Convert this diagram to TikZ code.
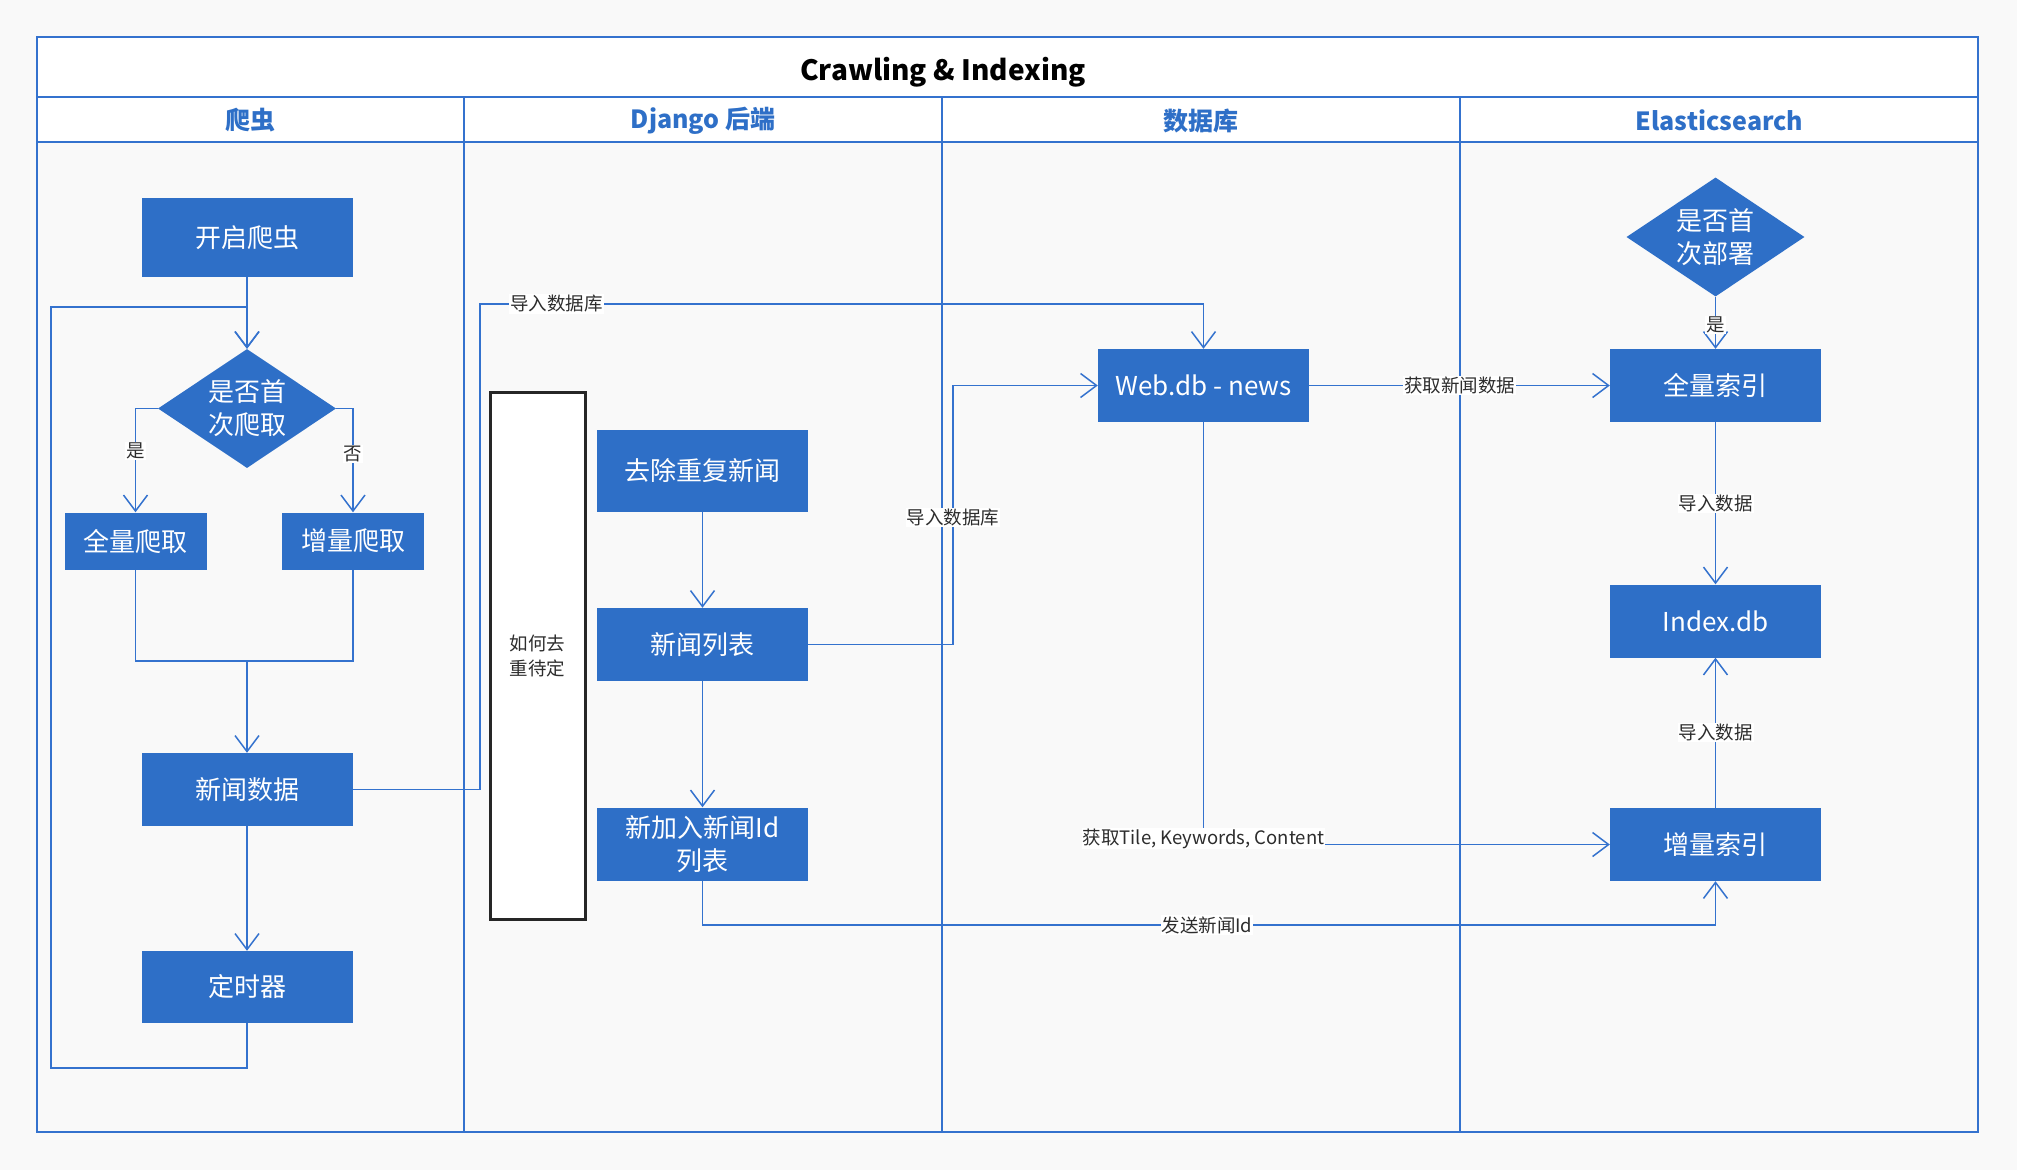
\documentclass[tikz,border=0pt]{standalone}
\usepackage{fontspec}
\setmainfont{Noto Sans CJK SC}
\usetikzlibrary{shapes.geometric,arrows.meta}
\definecolor{nodeblue}{RGB}{46,111,199}
\definecolor{lineblue}{RGB}{52,114,206}
\definecolor{pagebg}{RGB}{249,249,249}
\definecolor{labelgray}{RGB}{45,45,45}
\begin{document}
\begin{tikzpicture}[x=1pt,y=-1pt,
  proc/.style={draw=none, fill=nodeblue, text=white, minimum width=211pt, minimum height=73pt, inner sep=0pt, align=center, font=\fontsize{26}{33}\selectfont},
  decis/.style={diamond, shape aspect=1.5, draw=none, fill=nodeblue, text=white, minimum width=178pt, minimum height=119pt, inner sep=0pt, align=center, font=\fontsize{26}{33}\selectfont},
  conn/.style={draw=lineblue, line width=1.5pt},
  arr/.style={-{Straight Barb[length=16pt,width=24pt,line width=1.5pt]}},
  lbl/.style={fill=white, text=labelgray, inner sep=1pt, font=\fontsize{18.5}{24}\selectfont, align=center},
  lanehdr/.style={text=nodeblue, font=\bfseries\fontsize{25}{30}\selectfont},
  laneline/.style={draw=lineblue, line width=2pt}
]
\useasboundingbox (0,0) rectangle (2017,1170);
\fill[pagebg] (0,0) rectangle (2017,1170);
% pool
\fill[white] (37,37) rectangle (1978,142);
\draw[laneline] (37,97) -- (1978,97);
\draw[laneline] (37,142) -- (1978,142);
\draw[laneline] (464,97) -- (464,1132);
\draw[laneline] (942,97) -- (942,1132);
\draw[laneline] (1460,97) -- (1460,1132);
\draw[draw=lineblue, line width=2.5pt] (37,37) rectangle (1978,1132);
\node[font=\bfseries\fontsize{28}{32}\selectfont, text=black] (title) at (943,72) {Crawling \& Indexing};
\node[lanehdr] (h1) at (250.5,120.5) {爬虫};
\node[lanehdr] (h2) at (703,120.5) {Django 后端};
\node[lanehdr] (h3) at (1201,120.5) {数据库};
\node[lanehdr] (h4) at (1719.5,120.5) {Elasticsearch};

% crawler lane
\node[proc, minimum height=79pt] (start) at (247,237.5) {开启爬虫};
\node[decis] (dia1) at (247,408.5) {是否首\\次爬取};
\node[proc, minimum width=142pt, minimum height=57pt] (full) at (135.5,541) {全量爬取};
\node[proc, minimum width=142pt, minimum height=57pt] (incr) at (353,541) {增量爬取};
\node[proc] (news) at (247,789.5) {新闻数据};
\node[proc, minimum height=72pt] (timer) at (247,987) {定时器};

% django lane
\node[draw=black!85, line width=3pt, fill=white, minimum width=95pt, minimum height=527pt, inner sep=0pt, align=center, text=labelgray, font=\fontsize{18.5}{25}\selectfont] (note) at (537.5,655.5) {如何去\\重待定};
\node[proc, minimum height=82pt] (dedup) at (702.5,471) {去除重复新闻};
\node[proc] (list) at (702.5,644.5) {新闻列表};
\node[proc] (newid) at (702.5,844) {新加入新闻Id\\列表};

% database lane
\node[proc] (webdb) at (1203.5,385.5) {Web.db - news};

% elasticsearch lane
\node[decis] (dia2) at (1715.5,237) {是否首\\次部署};
\node[proc] (fullidx) at (1715.5,385.5) {全量索引};
\node[proc] (indexdb) at (1715.5,621) {Index.db};
\node[proc] (incridx) at (1715.5,844.5) {增量索引};

% coordinates
\coordinate (lpA) at (247,1068);
\coordinate (lpB) at (51,1068);
\coordinate (lpC) at (51,307);
\coordinate (lpD) at (247,307);
\coordinate (merge) at (247,661);
\coordinate (imp1) at (480,304);
\coordinate (imp2) at (1203.5,304);
\coordinate (imp3) at (953,385.5);
\coordinate (send1) at (702.5,925);

% connectors
\draw[conn,arr] (start) -- (dia1);
\draw[conn,arr] (timer.south) -- (lpA) -- (lpB) -- (lpC) -- (lpD) -- (dia1.north);
\draw[conn,arr] (dia1.west) -| node[lbl,pos=0.705]{是} (full.north);
\draw[conn,arr] (dia1.east) -| node[lbl,pos=0.717]{否} (incr.north);
\draw[conn] (full.south) |- (merge);
\draw[conn] (incr.south) |- (merge);
\draw[conn,arr] (merge) -- (news.north);
\draw[conn,arr] (news) -- (timer);
\draw[conn,arr] (news.east) -| (imp1) -- node[lbl,pos=0.106]{导入数据库} (imp2) -- (webdb.north);
\draw[conn,arr] (dedup) -- (list);
\draw[conn,arr] (list) -- (newid);
\draw[conn,arr] (list.east) -| node[lbl,pos=0.746]{导入数据库} (imp3) -- (webdb.west);
\draw[conn,arr] (webdb.east) -- node[lbl]{获取新闻数据} (fullidx.west);
\draw[conn,arr] (dia2.south) -- node[lbl,pos=0.54]{是} (fullidx.north);
\draw[conn,arr] (fullidx) -- node[lbl]{导入数据} (indexdb);
\draw[conn,arr] (incridx) -- node[lbl]{导入数据} (indexdb);
\draw[conn,arr] (webdb.south) |- node[lbl,pos=0.5,yshift=6pt]{获取Tile, Keywords, Content} (incridx.west);
\draw[conn,arr] (newid.south) -- (send1) -| node[lbl,pos=0.249]{发送新闻Id} (incridx.south);
\end{tikzpicture}
\end{document}
